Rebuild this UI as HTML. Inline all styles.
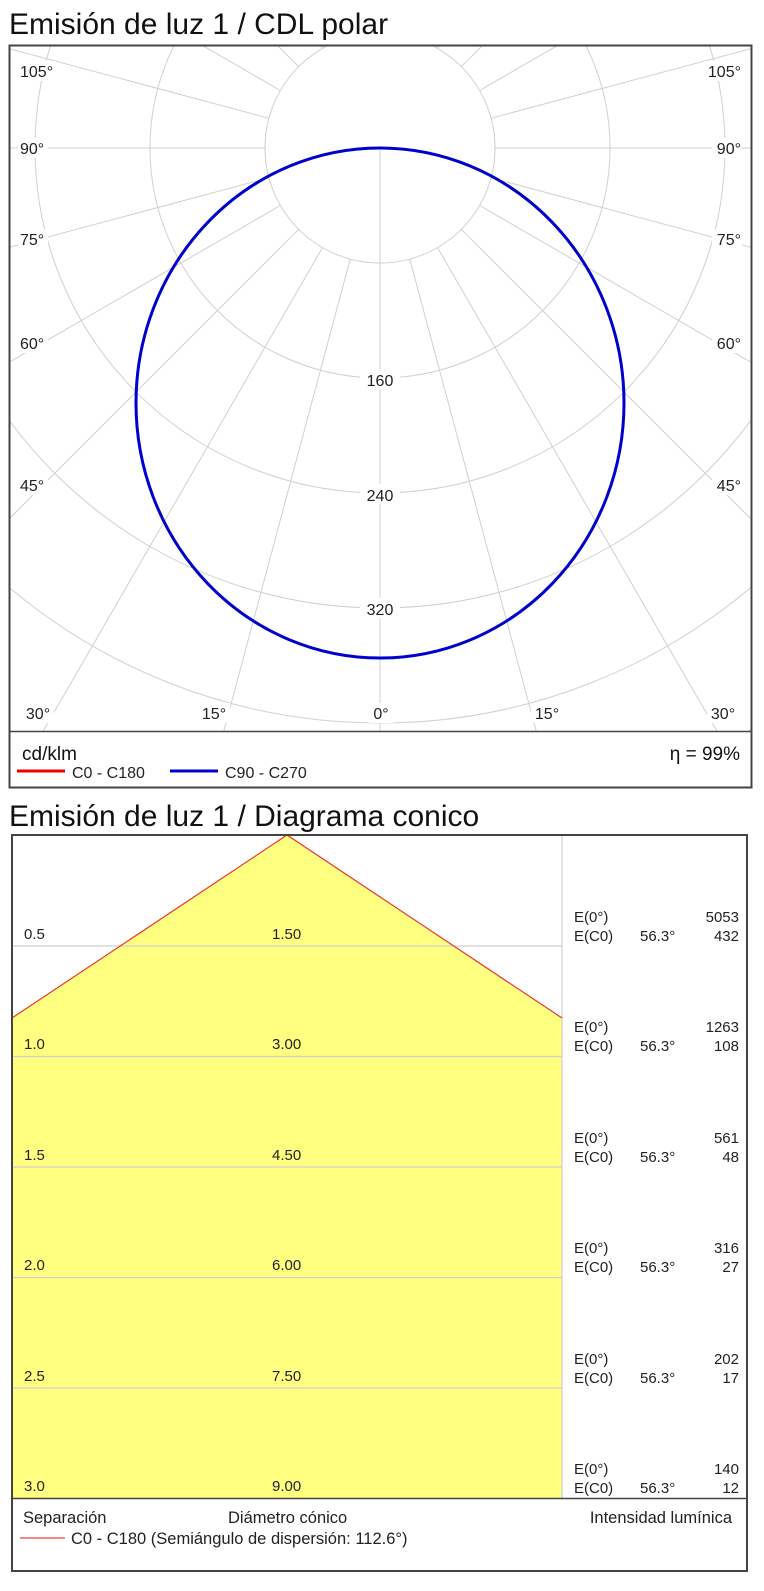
<!DOCTYPE html>
<html><head><meta charset="utf-8">
<style>
html,body{margin:0;padding:0;background:#fff;}
svg{display:block;font-family:"Liberation Sans",Arial,sans-serif;}
</style></head>
<body>
<svg width="764" height="1591" viewBox="0 0 764 1591" xmlns="http://www.w3.org/2000/svg">
<defs>
<clipPath id="pc"><rect x="10" y="46" width="741" height="685"/></clipPath>
</defs>
<text x="9" y="34" font-size="30" fill="#111">Emisión de luz 1 / CDL polar</text>
<g clip-path="url(#pc)" stroke="#d0d0d0" stroke-width="1" fill="none">
<circle cx="380" cy="148" r="115"/>
<circle cx="380" cy="148" r="230"/>
<circle cx="380" cy="148" r="345"/>
<circle cx="380" cy="148" r="460"/>
<circle cx="380" cy="148" r="575"/>
<circle cx="380" cy="148" r="690"/>
<circle cx="380" cy="148" r="805"/>
<line x1="380" y1="148" x2="380" y2="740"/>
<line x1="380" y1="33" x2="380" y2="0"/>
<g transform="translate(380,148)">
<line x1="29.8" y1="111.1" x2="300" y2="1120"/><line x1="-29.8" y1="111.1" x2="-300" y2="1120"/>
<line x1="57.5" y1="99.6" x2="580" y2="1004"/><line x1="-57.5" y1="99.6" x2="-580" y2="1004"/>
<line x1="81.3" y1="81.3" x2="820" y2="820"/><line x1="-81.3" y1="81.3" x2="-820" y2="820"/>
<line x1="99.6" y1="57.5" x2="1004" y2="580"/><line x1="-99.6" y1="57.5" x2="-1004" y2="580"/>
<line x1="111.1" y1="29.8" x2="1120" y2="300"/><line x1="-111.1" y1="29.8" x2="-1120" y2="300"/>
<line x1="115" y1="0" x2="1200" y2="0"/><line x1="-115" y1="0" x2="-1200" y2="0"/>
<line x1="111.1" y1="-29.8" x2="1120" y2="-300"/><line x1="-111.1" y1="-29.8" x2="-1120" y2="-300"/>
<line x1="99.6" y1="-57.5" x2="1004" y2="-580"/><line x1="-99.6" y1="-57.5" x2="-1004" y2="-580"/>
<line x1="81.3" y1="-81.3" x2="820" y2="-820"/><line x1="-81.3" y1="-81.3" x2="-820" y2="-820"/>
<line x1="57.5" y1="-99.6" x2="580" y2="-1004"/><line x1="-57.5" y1="-99.6" x2="-580" y2="-1004"/>
<line x1="29.8" y1="-111.1" x2="300" y2="-1120"/><line x1="-29.8" y1="-111.1" x2="-300" y2="-1120"/>
</g>
</g>
<ellipse cx="380" cy="403" rx="244" ry="255" fill="none" stroke="#0000cc" stroke-width="3"/>
<g font-size="16" fill="#222">
<g fill="#fff">
<rect x="18" y="61" width="38" height="20"/><rect x="18" y="138" width="30" height="20"/><rect x="18" y="229" width="30" height="20"/><rect x="18" y="333" width="30" height="20"/><rect x="18" y="475" width="30" height="20"/>
<rect x="704" y="61" width="38" height="20"/><rect x="712" y="138" width="30" height="20"/><rect x="712" y="229" width="30" height="20"/><rect x="712" y="333" width="30" height="20"/><rect x="712" y="475" width="30" height="20"/>
<rect x="22" y="703" width="32" height="20"/><rect x="198" y="703" width="32" height="20"/><rect x="369" y="703" width="24" height="20"/><rect x="531" y="703" width="32" height="20"/><rect x="707" y="703" width="32" height="20"/>
<rect x="360" y="369" width="40" height="20"/><rect x="360" y="484" width="40" height="20"/><rect x="360" y="598" width="40" height="20"/>
</g>
<text x="20" y="77">105°</text><text x="20" y="154">90°</text><text x="20" y="245">75°</text><text x="20" y="349">60°</text><text x="20" y="491">45°</text>
<g text-anchor="end"><text x="741" y="77">105°</text><text x="741" y="154">90°</text><text x="741" y="245">75°</text><text x="741" y="349">60°</text><text x="741" y="491">45°</text></g>
<g text-anchor="middle"><text x="38" y="719">30°</text><text x="214" y="719">15°</text><text x="381" y="719">0°</text><text x="547" y="719">15°</text><text x="723" y="719">30°</text>
<text x="380" y="386">160</text><text x="380" y="501">240</text><text x="380" y="615">320</text></g>
</g>
<rect x="9.5" y="45.5" width="742" height="742" fill="none" stroke="#444" stroke-width="2"/>
<line x1="9" y1="731.5" x2="752" y2="731.5" stroke="#444" stroke-width="1.5"/>
<text x="22" y="760" font-size="19" fill="#111">cd/klm</text>
<text x="740" y="760" font-size="19" fill="#111" text-anchor="end">η = 99%</text>
<line x1="17" y1="771" x2="65" y2="771" stroke="#e00" stroke-width="3"/>
<text x="72" y="778" font-size="16" fill="#222">C0 - C180</text>
<line x1="170" y1="771" x2="218" y2="771" stroke="#0000cc" stroke-width="3"/>
<text x="225" y="778" font-size="16" fill="#222">C90 - C270</text>

<text x="9" y="826" font-size="30" fill="#111">Emisión de luz 1 / Diagrama conico</text>
<polygon points="12,1018 287,835 562,1018 562,1498 12,1498" fill="#ffff80"/>
<g stroke="#cfcfcf" stroke-width="1.2">
<line x1="12" y1="946" x2="562" y2="946"/><line x1="12" y1="1056.5" x2="562" y2="1056.5"/><line x1="12" y1="1167" x2="562" y2="1167"/><line x1="12" y1="1277.5" x2="562" y2="1277.5"/><line x1="12" y1="1388" x2="562" y2="1388"/>
<line x1="562" y1="835" x2="562" y2="1498"/>
</g>
<polyline points="12,1018 287,835 562,1018" fill="none" stroke="#e33" stroke-width="1.2"/>
<g font-size="15" fill="#222">
<text x="24" y="939">0.5</text><text x="272" y="939">1.50</text>
<text x="24" y="1049">1.0</text><text x="272" y="1049">3.00</text>
<text x="24" y="1160">1.5</text><text x="272" y="1160">4.50</text>
<text x="24" y="1270">2.0</text><text x="272" y="1270">6.00</text>
<text x="24" y="1381">2.5</text><text x="272" y="1381">7.50</text>
<text x="24" y="1491">3.0</text><text x="272" y="1491">9.00</text>
<text x="574" y="922">E(0°)</text><text x="574" y="941">E(C0)</text><text x="640" y="941">56.3°</text>
<text x="574" y="1032">E(0°)</text><text x="574" y="1051">E(C0)</text><text x="640" y="1051">56.3°</text>
<text x="574" y="1143">E(0°)</text><text x="574" y="1162">E(C0)</text><text x="640" y="1162">56.3°</text>
<text x="574" y="1253">E(0°)</text><text x="574" y="1272">E(C0)</text><text x="640" y="1272">56.3°</text>
<text x="574" y="1364">E(0°)</text><text x="574" y="1383">E(C0)</text><text x="640" y="1383">56.3°</text>
<text x="574" y="1474">E(0°)</text><text x="574" y="1493">E(C0)</text><text x="640" y="1493">56.3°</text>
<g text-anchor="end">
<text x="739" y="922">5053</text><text x="739" y="941">432</text>
<text x="739" y="1032">1263</text><text x="739" y="1051">108</text>
<text x="739" y="1143">561</text><text x="739" y="1162">48</text>
<text x="739" y="1253">316</text><text x="739" y="1272">27</text>
<text x="739" y="1364">202</text><text x="739" y="1383">17</text>
<text x="739" y="1474">140</text><text x="739" y="1493">12</text>
</g>
</g>
<g font-size="16.5" fill="#222">
<text x="732" y="1523" text-anchor="end">Intensidad lumínica</text>
<text x="23" y="1523">Separación</text>
<text x="228" y="1523">Diámetro cónico</text>
<text x="71" y="1544">C0 - C180 (Semiángulo de dispersión: 112.6°)</text>
</g>
<line x1="20" y1="1538" x2="65" y2="1538" stroke="#f06060" stroke-width="1.5"/>
<rect x="12" y="835" width="735" height="736" fill="none" stroke="#444" stroke-width="2"/>
<line x1="12" y1="1498.5" x2="747" y2="1498.5" stroke="#444" stroke-width="1.5"/>
</svg>
</body></html>
